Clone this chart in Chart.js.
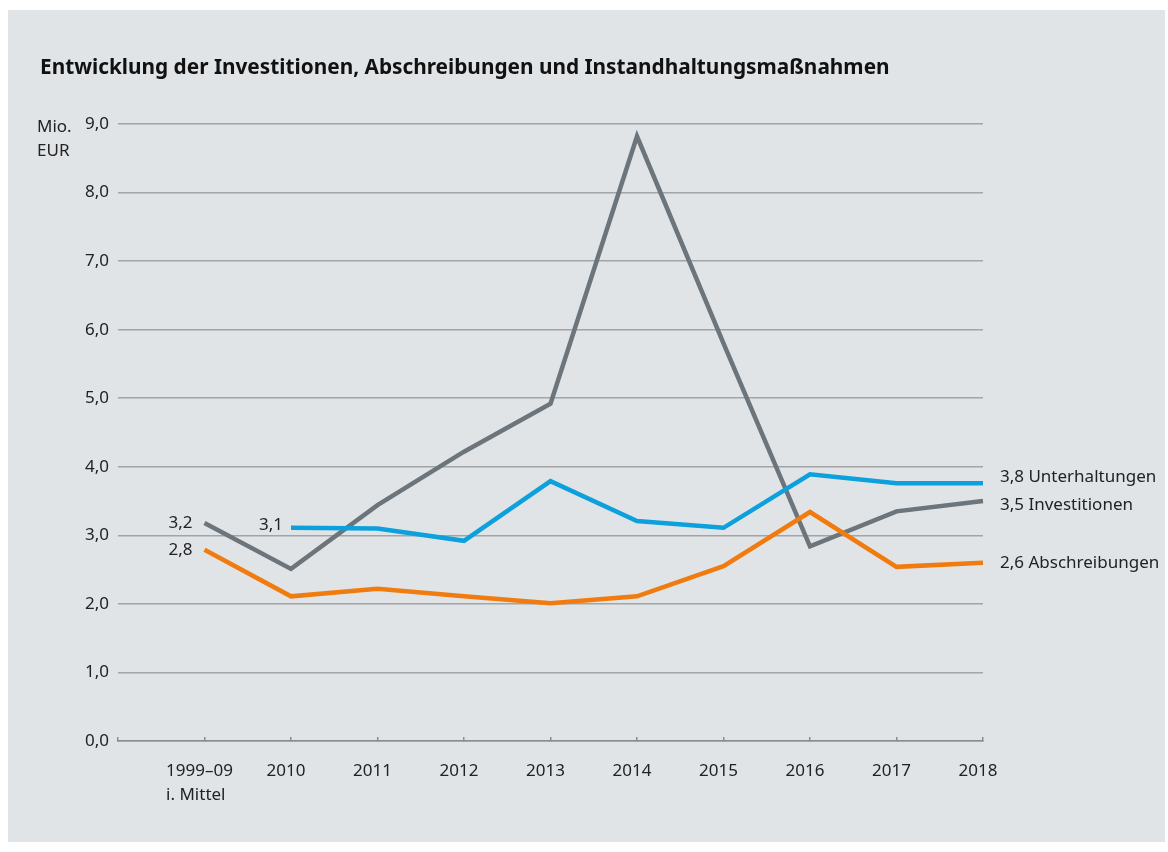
<!DOCTYPE html>
<html>
<head>
<meta charset="utf-8">
<script src="https://cdn.jsdelivr.net/npm/chart.js@4"></script>
<style>
  html, body { margin: 0; padding: 0; background: #fff; }
  #wrap { position: relative; width: 1168px; height: 852px; }
</style>
</head>
<body>
<div id="wrap"><canvas id="chart" width="1168" height="852"></canvas></div>
<script>
const categories = ["", "1999–09", "2010", "2011", "2012", "2013", "2014", "2015", "2016", "2017", "2018"];
const investitionen = [null, 3.18, 2.51, 3.44, 4.22, 4.92, 8.82, 5.8, 2.84, 3.35, 3.5];
const unterhaltungen = [null, null, 3.11, 3.1, 2.92, 3.79, 3.21, 3.11, 3.89, 3.76, 3.76];
const abschreibungen = [null, 2.79, 2.11, 2.22, 2.11, 2.01, 2.11, 2.55, 3.34, 2.54, 2.6];
const yTicks = [0, 1, 2, 3, 4, 5, 6, 7, 8, 9];
const startLabels = ["3,2", "3,1", "2,8"];
const endLabels = ["3,5 Investitionen", "3,8 Unterhaltungen", "2,6 Abschreibungen"];

const FONT = "'Noto Sans', 'Open Sans', sans-serif";
const GRAY = "#6c757b", BLUE = "#0ca0dc", ORANGE = "#f07c0f";
const TXT = 17;

const fmt = v => v.toFixed(1).replace(".", ",");

const frame = {
  id: "frame",
  beforeDraw(chart) {
    const c = chart.ctx;
    c.save();
    c.fillStyle = "#e1e4e7";
    c.fillRect(8, 10, 1157, 832);
    c.fillStyle = "#111";
    c.font = "bold 20.8px " + FONT;
    c.textBaseline = "middle";
    c.fillText("Entwicklung der Investitionen, Abschreibungen und Instandhaltungsmaßnahmen", 40, 68);
    c.font = TXT + "px " + FONT;
    c.fillStyle = "#222";
    c.fillText("Mio.", 37, 127);
    c.fillText("EUR", 37, 151);
    c.restore();
  },
  afterDraw(chart) {
    const c = chart.ctx;
    const x = chart.scales.x, y = chart.scales.y;
    c.save();
    c.font = TXT + "px " + FONT;
    c.fillStyle = "#222";
    c.textBaseline = "middle";
    // x category labels, set slightly left of each tick like the original
    categories.forEach((lab, i) => {
      if (!lab) return;
      const px = x.getPixelForValue(i) - 5;
      c.textAlign = "center";
      c.fillText(lab, px, 771);
      if (i === 1) {
        const w = c.measureText(lab).width;
        c.textAlign = "left";
        c.fillText("i. Mittel", px - w / 2, 795);
      }
    });
    chart.data.datasets.forEach((ds, i) => {
      const first = ds.data.findIndex(v => v !== null);
      c.textAlign = "right";
      let yy = y.getPixelForValue(ds.data[first]);
      let gap = 12;
      if (ds.key === "unt") { yy -= 3; gap = 8; }
      c.fillText(startLabels[i], x.getPixelForValue(first) - gap, yy);
      const last = ds.data.length - 1;
      c.textAlign = "left";
      let ey = y.getPixelForValue(ds.data[last]);
      if (ds.key === "unt") ey -= 6;
      if (ds.key === "inv") ey += 4;
      c.fillText(endLabels[i], x.right + 17, ey);
    });
    c.restore();
  }
};

new Chart(document.getElementById("chart"), {
  type: "line",
  data: {
    labels: categories,
    datasets: [
      { key: "inv", data: investitionen, borderColor: GRAY, order: 3 },
      { key: "unt", data: unterhaltungen, borderColor: BLUE, order: 1 },
      { key: "abs", data: abschreibungen, borderColor: ORANGE, order: 2 }
    ]
  },
  options: {
    responsive: false,
    animation: false,
    devicePixelRatio: 1,
    layout: { padding: { left: 0, right: 185, top: 124, bottom: 0 } },
    elements: {
      line: { borderWidth: 4.5, tension: 0, borderCapStyle: "butt", borderJoinStyle: "miter" },
      point: { radius: 0 }
    },
    plugins: { legend: { display: false }, tooltip: { enabled: false } },
    scales: {
      x: {
        offset: false,
        afterFit(s) { s.height = 111; },
        border: { display: true, color: "#8a8d90", width: 1.5 },
        grid: { drawOnChartArea: false, drawTicks: true, tickLength: -4, color: "#8a8d90", lineWidth: 1.5 },
        ticks: { display: false, autoSkip: false, maxRotation: 0 }
      },
      y: {
        min: 0,
        max: 9,
        afterFit(s) { s.width = 118; },
        afterBuildTicks(s) { s.ticks = yTicks.map(v => ({ value: v })); },
        border: { display: false },
        grid: { drawTicks: false, color: "#a2a4a6", lineWidth: 1.5 },
        ticks: { padding: 9, color: "#222", font: { family: FONT, size: TXT }, callback: v => fmt(v) }
      }
    }
  },
  plugins: [frame]
});
</script>
</body>
</html>
